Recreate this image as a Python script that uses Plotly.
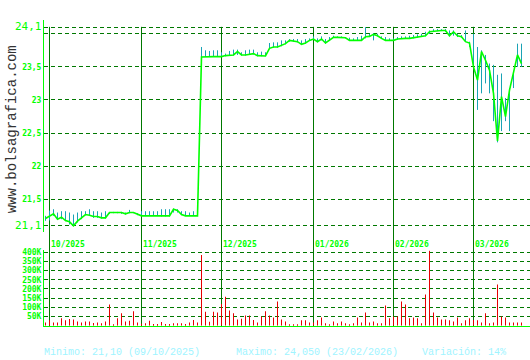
import plotly.graph_objects as go

# ---------------- data ----------------
close = [
    21.21, 21.24, 21.28, 21.20, 21.23, 21.18, 21.16, 21.10, 21.17, 21.22,
    21.27, 21.26, 21.24, 21.24, 21.22, 21.22, 21.30, 21.30, 21.30, 21.30,
    21.28, 21.30, 21.30, 21.28, 21.25, 21.25, 21.25, 21.25, 21.25, 21.25,
    21.25, 21.25, 21.35, 21.33, 21.27, 21.25, 21.25, 21.25, 21.25,
    23.65, 23.655, 23.655, 23.655, 23.655, 23.655, 23.67, 23.68, 23.68, 23.73, 23.68,
    23.68, 23.69, 23.70, 23.67, 23.665, 23.665, 23.78, 23.80, 23.80, 23.82,
    23.85, 23.90, 23.89, 23.88, 23.84, 23.86, 23.90, 23.92, 23.88, 23.92,
    23.86, 23.90, 23.945, 23.945, 23.945, 23.94, 23.90, 23.90, 23.90, 23.90,
    23.955, 23.96, 23.99, 23.97, 23.93, 23.90, 23.90, 23.90, 23.92, 23.93,
    23.93, 23.93, 23.94, 23.95, 23.97, 23.97, 24.03, 24.04, 24.05, 24.05,
    24.05, 23.97, 24.03, 23.97, 23.955, 23.88, 23.86, 23.50, 23.30, 23.73,
    23.60, 23.45, 23.10, 22.38, 23.05, 22.75, 23.15, 23.40, 23.68, 23.55,
]
high = [
    21.25, 21.33, 21.35, 21.30, 21.32, 21.32, 21.30, 21.27, 21.30, 21.32,
    21.32, 21.35, 21.32, 21.32, 21.30, 21.32, 21.30, 21.31, 21.31, 21.31,
    21.30, 21.34, 21.30, 21.29, 21.32, 21.32, 21.32, 21.32, 21.32, 21.35,
    21.35, 21.35, 21.36, 21.35, 21.32, 21.32, 21.30, 21.32, 21.32,
    23.80, 23.75, 23.74, 23.75, 23.75, 23.72, 23.70, 23.74, 23.76, 23.76, 23.72,
    23.75, 23.76, 23.76, 23.72, 23.73, 23.72, 23.86, 23.87, 23.87, 23.90,
    23.90, 23.92, 23.92, 23.92, 23.90, 23.92, 23.93, 23.96, 23.93, 23.96,
    23.92, 23.95, 23.97, 23.96, 23.96, 23.95, 23.94, 23.93, 23.95, 23.97,
    24.10, 24.00, 24.01, 24.00, 23.96, 23.95, 23.93, 23.93, 23.95, 23.96,
    23.96, 23.97, 23.98, 23.99, 24.00, 24.03, 24.05, 24.07, 24.07, 24.07,
    24.07, 24.05, 24.05, 24.00, 23.98, 24.05, 23.88, 24.00, 23.80, 23.75,
    23.68, 23.55, 23.53, 23.38, 23.40, 23.03, 23.18, 23.43, 23.85, 23.85,
]
low = [
    21.175, 21.18, 21.25, 21.20, 21.20, 21.17, 21.12, 21.10, 21.15, 21.20,
    21.26, 21.26, 21.22, 21.22, 21.21, 21.21, 21.28, 21.29, 21.29, 21.28,
    21.27, 21.29, 21.29, 21.26, 21.25, 21.25, 21.25, 21.25, 21.25, 21.24,
    21.24, 21.24, 21.30, 21.30, 21.26, 21.25, 21.25, 21.25, 21.25,
    23.59, 23.65, 23.65, 23.65, 23.65, 23.65, 23.66, 23.67, 23.67, 23.68, 23.67,
    23.67, 23.68, 23.69, 23.66, 23.66, 23.66, 23.77, 23.79, 23.79, 23.81,
    23.84, 23.88, 23.88, 23.87, 23.83, 23.85, 23.89, 23.91, 23.87, 23.90,
    23.85, 23.89, 23.94, 23.94, 23.94, 23.93, 23.89, 23.89, 23.89, 23.89,
    23.93, 23.95, 23.90, 23.96, 23.92, 23.89, 23.89, 23.89, 23.91, 23.92,
    23.92, 23.92, 23.93, 23.94, 23.96, 23.96, 24.00, 24.03, 24.04, 24.04,
    24.03, 23.96, 23.97, 23.95, 23.94, 23.88, 23.80, 23.50, 22.85, 23.10,
    23.25, 23.10, 22.68, 22.36, 22.53, 22.68, 22.53, 23.18, 23.50, 23.50,
]
volume_k = [
    18, 29, 18, 18, 40, 29, 36, 34, 23, 18,
    23, 23, 14, 18, 13, 23, 115, 7, 40, 67,
    23, 27, 78, 18, 10, 13, 27, 9, 9, 20,
    9, 9, 13, 13, 13, 9, 18, 31, 18, 385,
    76, 22, 76, 72, 118, 158, 83, 67, 34, 38,
    56, 56, 31, 18, 50, 78, 56, 45, 132, 34,
    23, 7, 7, 7, 29, 29, 18, 18, 29, 45,
    13, 7, 23, 13, 23, 13, 7, 13, 45, 18,
    72, 18, 23, 13, 13, 110, 40, 50, 50, 132,
    115, 40, 45, 40, 13, 170, 408, 72, 45, 34,
    34, 29, 23, 45, 13, 29, 40, 31, 29, 18,
    67, 13, 18, 224, 50, 45, 18, 18, 18, 18,
]
month_idx = [1, 24, 44, 67, 87, 107]
month_labels = ["10/2025", "11/2025", "12/2025", "01/2026", "02/2026", "03/2026"]
price_ticks = [21.1, 21.5, 22.0, 22.5, 23.0, 23.5, 24.0, 24.1]
price_tick_labels = ["21,1", "21,5", "22", "22,5", "23", "23,5", "", "24,1"]
vol_ticks = [50, 100, 150, 200, 250, 300, 350, 400]
vol_tick_labels = ["50K", "100K", "150K", "200K", "250K", "300K", "350K", "400K"]
footer_texts = ["Minimo: 21,10 (09/10/2025)", "Maximo: 24,050 (23/02/2026)", "Variación: 14%"]
watermark = "www.bolsagrafica.com"

# ---------------- layout helpers ----------------
W, H = 530, 360
def fx(p):
    return p / W
def fy(p):
    return 1 - p / H

GREEN = "#00ff00"
GRID = "#007800"
VLINE = "#007800"
MONO = "DejaVu Sans Mono"
THIN = "Liberation Mono"

idx = list(range(len(close)))

hl_x, hl_y = [], []
for i, (lo, hi) in enumerate(zip(low, high)):
    hl_x += [i, i, None]
    hl_y += [lo, hi, None]

fig = go.Figure()
fig.add_trace(go.Scatter(x=hl_x, y=hl_y, mode="lines",
                         line=dict(color="#1aa3b5", width=1),
                         xaxis="x", yaxis="y", hoverinfo="skip"))
fig.add_trace(go.Scatter(x=idx, y=close, mode="lines",
                         line=dict(color=GREEN, width=1.6),
                         xaxis="x", yaxis="y"))
fig.add_trace(go.Bar(x=idx, y=volume_k, width=0.25,
                     marker=dict(color="#e60000", line=dict(width=0)),
                     xaxis="x2", yaxis="y2"))

def big(t):
    return f'<span style="font-size:11px">{t}</span>' if t in ("24,1", "21,1") else f"<b>{t}</b>"

xr = [-0.375, 121.125]
fig.update_layout(
    width=W, height=H,
    margin=dict(l=0, r=0, t=0, b=0),
    paper_bgcolor="white", plot_bgcolor="white",
    showlegend=False,
    xaxis=dict(domain=[fx(44), 1], range=xr, showgrid=False, zeroline=False,
               showticklabels=False, showline=False, anchor="y"),
    yaxis=dict(domain=[fy(231.7), fy(18.6)], range=[21.0, 24.2],
               tickvals=price_ticks, ticktext=[big(t) for t in price_tick_labels],
               tickfont=dict(family=MONO, size=8, color=GREEN),
               showgrid=True, gridcolor=GRID, griddash="4px,3px", gridwidth=1,
               zeroline=False, showline=True, linecolor=GREEN, linewidth=1,
               ticks="", anchor="x"),
    xaxis2=dict(domain=[fx(44), 1], range=xr, showgrid=False, zeroline=False,
                showticklabels=False, showline=True, linecolor=GREEN, linewidth=1,
                anchor="y2"),
    yaxis2=dict(domain=[fy(325.5), fy(249.7)], range=[0, 410],
                tickvals=vol_ticks, ticktext=[f"<b>{t}</b>" for t in vol_tick_labels],
                tickfont=dict(family=MONO, size=8, color=GREEN),
                showgrid=True, gridcolor=GRID, griddash="4px,3px", gridwidth=1,
                zeroline=False, showline=True, linecolor=GREEN, linewidth=1,
                ticks="", anchor="x2"),
)

shapes = []
annotations = []
for m, lab in zip(month_idx, month_labels):
    shapes.append(dict(type="line", xref="x", yref="paper", x0=m, x1=m,
                       y0=fy(326), y1=fy(25), line=dict(color=VLINE, width=1),
                       layer="between"))
    annotations.append(dict(x=m, xref="x", y=fy(244), yref="paper", text=f"<b>{lab}</b>",
                            showarrow=False, xanchor="left", yanchor="middle", xshift=-1,
                            font=dict(family=MONO, size=8, color=GREEN)))

annotations.append(dict(x=fx(12), y=fy(128), xref="paper", yref="paper", text=watermark,
                        textangle=-90, showarrow=False, xanchor="center", yanchor="middle",
                        font=dict(family=THIN, size=14, color="#333333")))
for t, xp in zip(footer_texts, [42, 234, 420]):
    annotations.append(dict(x=fx(xp), y=fy(352), xref="paper", yref="paper", text=t,
                            showarrow=False, xanchor="left", yanchor="middle",
                            font=dict(family=THIN, size=10, color="#a0f4ff")))

fig.update_layout(shapes=shapes, annotations=annotations)
fig.write_html("out.html")
